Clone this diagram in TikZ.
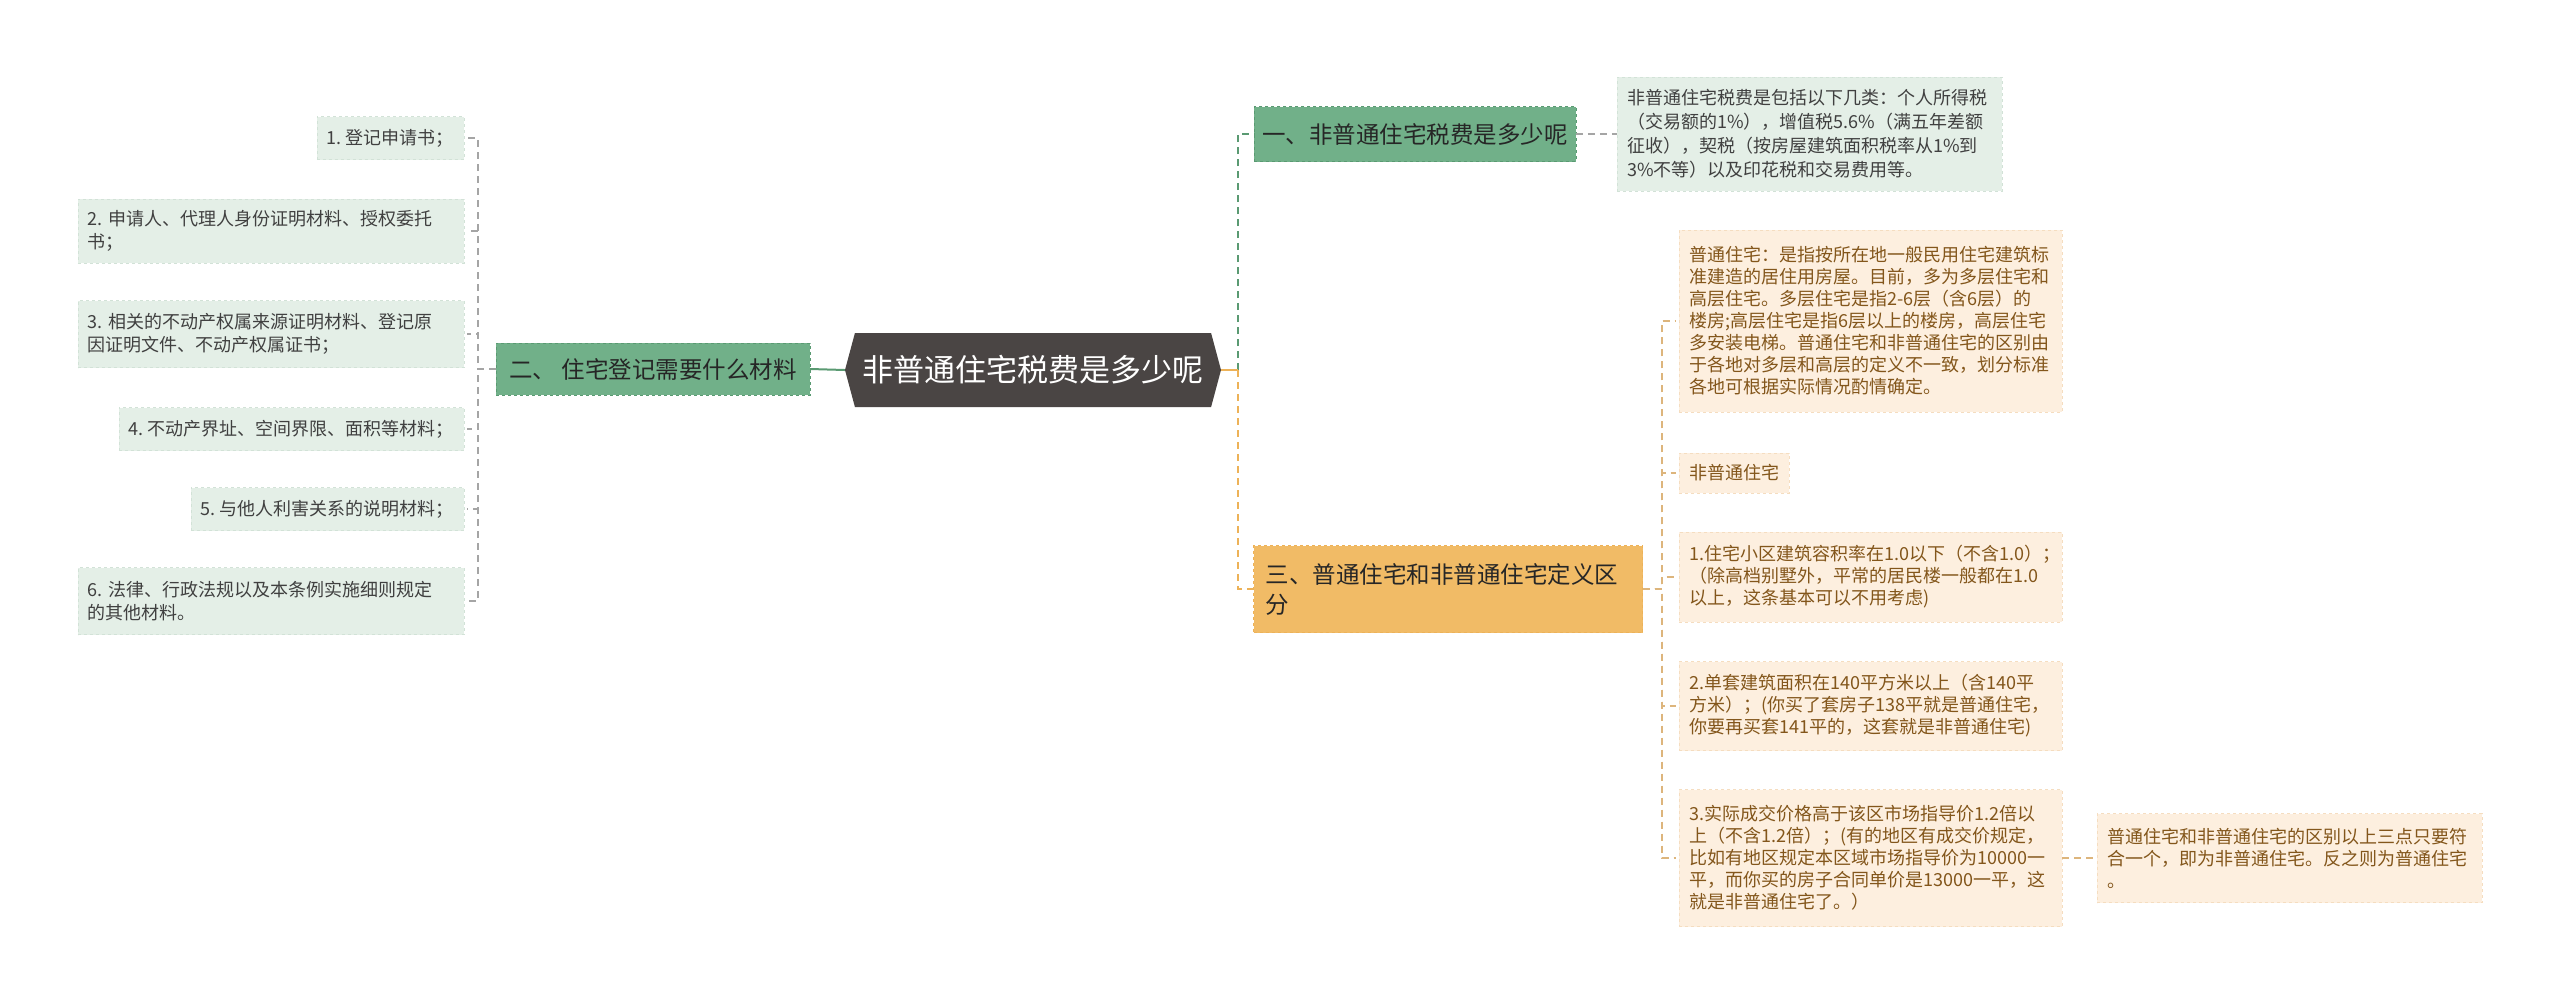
\documentclass[tikz,border=0pt]{standalone}
\usepackage{fontspec}
\setmainfont{Noto Sans CJK SC}
\usepackage{xcolor}
\usepackage{tikz}
\usetikzlibrary{positioning,shapes.symbols}
\definecolor{rootback}{HTML}{4A4544}
\definecolor{greenback}{HTML}{71B089}
\definecolor{greenline}{HTML}{5A9A72}
\definecolor{greenleaf}{HTML}{E4EFE7}
\definecolor{greenleafline}{HTML}{D2E2D7}
\definecolor{orangeback}{HTML}{F1BB66}
\definecolor{orangeline}{HTML}{EDB258}
\definecolor{orangeleaf}{HTML}{FDEFDF}
\definecolor{orangeleafline}{HTML}{F5DDC0}
\definecolor{orangetext}{HTML}{83561B}
\definecolor{orangeconn}{HTML}{DDB57C}
\definecolor{greyconn}{HTML}{A5A5A5}
\frenchspacing

\begin{document}
\begin{tikzpicture}[x=1pt,y=-1pt,
  rootnode/.style={signal,signal to=east and west,signal pointer angle=150,
    fill=rootback,text=white,font=\fontsize{31}{36}\selectfont,
    minimum width=376pt,minimum height=74pt,inner sep=0pt},
  greenbranch/.style={fill=greenback,draw=greenline,dashed,text=black!85,
    font=\fontsize{23.5}{30}\selectfont,align=left,inner xsep=8pt,inner ysep=0pt},
  orangebranch/.style={fill=orangeback,draw=orangeline,dashed,text=black!85,
    font=\fontsize{23.5}{30}\selectfont,align=left,inner xsep=12pt,inner ysep=0pt},
  greenleafbox/.style={fill=greenleaf,draw=greenleafline,dashed,text=black!75,
    font=\fontsize{18}{23.5}\selectfont,align=left,inner xsep=10pt,inner ysep=0pt},
  orangeleafbox/.style={fill=orangeleaf,draw=orangeleafline,dashed,text=orangetext,
    font=\fontsize{18}{22}\selectfont,align=left,inner xsep=10pt,inner ysep=0pt},
  solidconn/.style={line width=2pt},
  dashconn/.style={line width=1.3pt,dash pattern=on 7pt off 5pt}]
\useasboundingbox[fill=white] (0,0) rectangle (2560,1005);

% centre
\node[rootnode] (root) at (1033,370) {非普通住宅税费是多少呢};

% left branch and its items
\node[greenbranch,minimum width=314pt,minimum height=52pt] (reg) at (653,369) {二、 住宅登记需要什么材料};
\node[greenleafbox,anchor=east,minimum height=43pt] (reg1) at (464,138) {1. 登记申请书；};
\node[greenleafbox,anchor=east,text width=366pt,minimum height=64pt] (reg2) at (464,231) {2. 申请人、代理人身份证明材料、授权委托\\书；};
\node[greenleafbox,anchor=east,text width=366pt,minimum height=67pt] (reg3) at (464,334) {3. 相关的不动产权属来源证明材料、登记原\\因证明文件、不动产权属证书；};
\node[greenleafbox,anchor=east,minimum height=43pt] (reg4) at (464,429) {4. 不动产界址、空间界限、面积等材料；};
\node[greenleafbox,anchor=east,minimum height=43pt] (reg5) at (464,509) {5. 与他人利害关系的说明材料；};
\node[greenleafbox,anchor=east,text width=366pt,minimum height=67pt] (reg6) at (464,601) {6. 法律、行政法规以及本条例实施细则规定\\的其他材料。};

% right branch one
\node[greenbranch,minimum width=320pt,minimum height=55pt] (tax) at (1415,134) {一、非普通住宅税费是多少呢};
\node[greenleafbox,anchor=west,text width=365pt,minimum height=114pt,font=\fontsize{18}{24}\selectfont] (tax1) at (1617,134)
  {非普通住宅税费是包括以下几类：个人所得税\\（交易额的1\%），增值税5.6\%（满五年差额\\征收），契税（按房屋建筑面积税率从1\%到\\3\%不等）以及印花税和交易费用等。};

% right branch three
\node[orangebranch,text width=365pt,minimum height=87pt] (def) at (1448,589) {三、普通住宅和非普通住宅定义区\\分};
\node[orangeleafbox,anchor=west,text width=363pt,minimum height=182pt] (def1) at (1679,321)
  {普通住宅：是指按所在地一般民用住宅建筑标\\准建造的居住用房屋。目前，多为多层住宅和\\高层住宅。多层住宅是指2-6层（含6层）的\\楼房;高层住宅是指6层以上的楼房，高层住宅\\多安装电梯。普通住宅和非普通住宅的区别由\\于各地对多层和高层的定义不一致，划分标准\\各地可根据实际情况酌情确定。};
\node[orangeleafbox,anchor=west,minimum height=40pt] (def2) at (1679,473) {非普通住宅};
\node[orangeleafbox,anchor=west,text width=363pt,minimum height=90pt] (def3) at (1679,577)
  {1.住宅小区建筑容积率在1.0以下（不含1.0）；\\（除高档别墅外，平常的居民楼一般都在1.0\\以上，这条基本可以不用考虑)};
\node[orangeleafbox,anchor=west,text width=363pt,minimum height=89pt] (def4) at (1679,706)
  {2.单套建筑面积在140平方米以上（含140平\\方米）；(你买了套房子138平就是普通住宅，\\你要再买套141平的，这套就是非普通住宅)};
\node[orangeleafbox,anchor=west,text width=363pt,minimum height=137pt] (def5) at (1679,858)
  {3.实际成交价格高于该区市场指导价1.2倍以\\上（不含1.2倍）；(有的地区有成交价规定，\\比如有地区规定本区域市场指导价为10000一\\平，而你买的房子合同单价是13000一平，这\\就是非普通住宅了。）};
\node[orangeleafbox,anchor=west,text width=365pt,minimum height=89pt] (def6) at (2097,858)
  {普通住宅和非普通住宅的区别以上三点只要符\\合一个，即为非普通住宅。反之则为普通住宅\\。};

% spines
\coordinate (lspine) at (478,369);
\coordinate (rspine) at (1238,370);
\coordinate (dspine) at (1662,589);

% connectors
\draw[solidconn,greenline] (root.west) -- (reg.east);
\foreach \n in {reg1,reg2,reg3,reg4,reg5,reg6}
  \draw[dashconn,greyconn,shorten >=3pt] (reg.west) -- (lspine) |- (\n.east);
\draw[dashconn,greenline] (rspine) |- (tax.west);
\draw[solidconn,orangeline] (root.east) -- (rspine);
\draw[dashconn,orangeline] (rspine) |- (def.west);
\draw[dashconn,greyconn] (tax.east) -- (tax1.west);
\foreach \n in {def1,def2,def3,def4,def5}
  \draw[dashconn,orangeconn,shorten >=3pt] (def.east) -- (dspine) |- (\n.west);
\draw[dashconn,orangeconn] (def5.east) -- (def6.west);
\end{tikzpicture}
\end{document}
